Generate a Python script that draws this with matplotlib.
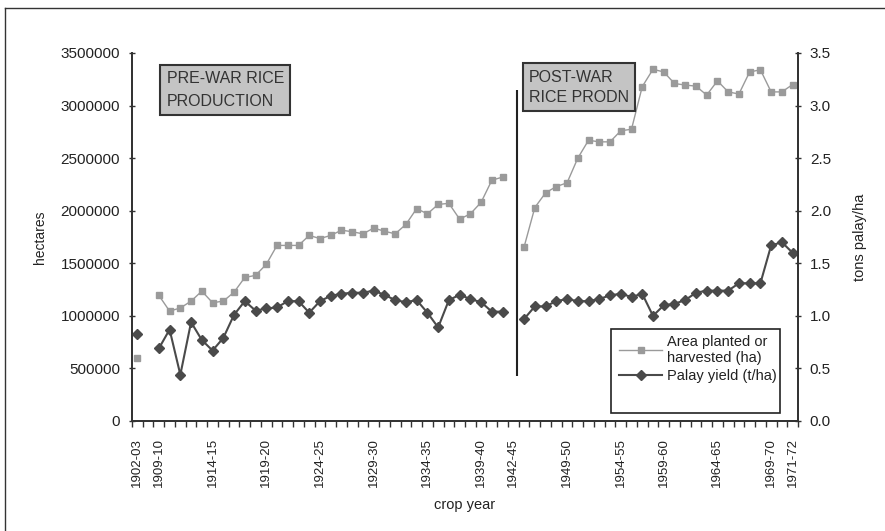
import numpy as np
import matplotlib
matplotlib.use("Agg")
import matplotlib.pyplot as plt
from matplotlib.lines import Line2D
from matplotlib.patches import Rectangle

plt.rcParams['font.family'] = ['Liberation Sans', 'DejaVu Sans']

nan = np.nan

# 62 crop-year categories; only some carry a label on the axis
labelled = {0: "1902-03", 2: "1909-10", 7: "1914-15", 12: "1919-20", 17: "1924-25",
            22: "1929-30", 27: "1934-35", 32: "1939-40", 35: "1942-45", 40: "1949-50",
            45: "1954-55", 49: "1959-60", 54: "1964-65", 59: "1969-70", 61: "1971-72"}
categories = [labelled.get(i, "") for i in range(62)]

area_ha = [600000, nan, 1195000, 1045000, 1075000, 1140000, 1235000, 1125000, 1140000, 1225000,
           1365000, 1385000, 1490000, 1670000, 1670000, 1670000, 1765000, 1735000, 1765000, 1815000,
           1800000, 1780000, 1835000, 1805000, 1780000, 1870000, 2020000, 1970000, 2060000, 2070000,
           1920000, 1970000, 2080000, 2290000, 2320000, nan, 1655000, 2030000, 2170000, 2230000,
           2265000, 2500000, 2670000, 2655000, 2655000, 2760000, 2775000, 3180000, 3345000, 3320000,
           3210000, 3195000, 3185000, 3100000, 3235000, 3130000, 3110000, 3320000, 3340000, 3130000,
           3130000, 3200000]

yield_tha = [0.83, nan, 0.69, 0.87, 0.44, 0.94, 0.77, 0.67, 0.79, 1.01,
             1.14, 1.05, 1.07, 1.08, 1.14, 1.14, 1.03, 1.14, 1.19, 1.21,
             1.22, 1.22, 1.24, 1.20, 1.15, 1.13, 1.15, 1.03, 0.89, 1.15,
             1.20, 1.16, 1.13, 1.04, 1.04, nan, 0.97, 1.09, 1.09, 1.14,
             1.16, 1.14, 1.14, 1.16, 1.195, 1.21, 1.18, 1.21, 1.00, 1.10,
             1.115, 1.15, 1.22, 1.24, 1.24, 1.24, 1.31, 1.31, 1.31, 1.67,
             1.70, 1.60]

left_ticks = [0, 500000, 1000000, 1500000, 2000000, 2500000, 3000000, 3500000]
right_ticks = [0.0, 0.5, 1.0, 1.5, 2.0, 2.5, 3.0, 3.5]
war_divider = 35.35  # between 1942-45 and the first post-war year

fig = plt.figure(figsize=(8.85, 5.31), dpi=100)
ax = fig.add_axes([132/885, 1 - 421/531, 666/885, 368/531])
ax2 = ax.twinx()

x = np.arange(len(categories))
txt = '#222222'
area_col = '#9a9a9a'
yld_col = '#4a4a4a'

la, = ax.plot(x, area_ha, color=area_col, lw=1.0, marker='s', ms=4.2,
              mfc=area_col, mec=area_col, label='Area planted or\nharvested (ha)')
ly, = ax2.plot(x, yield_tha, color=yld_col, lw=1.5, marker='D', ms=4.6,
               mfc=yld_col, mec=yld_col, label='Palay yield (t/ha)')

ax.set_xlim(-0.5, len(categories) - 0.5)
ax.set_ylim(0, 3500000)
ax2.set_ylim(0, 3.5)

# x axis: labels at category centres, tick marks at category boundaries
lab_idx = [i for i, c in enumerate(categories) if c]
ax.set_xticks(lab_idx)
ax.set_xticklabels([categories[i] for i in lab_idx], rotation=90, fontsize=9.5, color=txt)
ax.set_xticks(np.arange(-0.5, len(categories)), minor=True)
ax.tick_params(axis='x', which='major', length=0, pad=12)
ax.tick_params(axis='x', which='minor', length=4, width=1, direction='out', color='#333333')

ax.set_yticks(left_ticks)
ax.set_yticklabels([str(v) for v in left_ticks], fontsize=11, color=txt)
ax.tick_params(axis='y', which='major', length=5, width=1, direction='inout', color='#333333', pad=6)
ax2.set_yticks(right_ticks)
ax2.set_yticklabels([f"{v:.1f}" for v in right_ticks], fontsize=11, color=txt)
ax2.tick_params(axis='y', which='major', length=5, width=1, direction='inout', color='#333333', pad=6)

for a in (ax, ax2):
    a.spines['top'].set_visible(False)
    for s in ('left', 'right', 'bottom'):
        a.spines[s].set_color('#333333')
        a.spines[s].set_linewidth(1.3)

ax.set_xlabel('crop year', fontsize=10.5, color=txt, labelpad=8)
ax.set_ylabel('hectares', fontsize=10, color=txt, labelpad=10)
ax2.set_ylabel('tons palay/ha', fontsize=10.5, color=txt, labelpad=16)

# divider between pre-war and post-war periods
ax.vlines(war_divider, 424000, 3150000, color='#222222', lw=1.5)

box = dict(boxstyle='square,pad=0.4', facecolor='#c4c4c4', edgecolor='#333333', lw=1.5)
ax.text(0.052, 0.95, 'PRE-WAR RICE\nPRODUCTION', transform=ax.transAxes, fontsize=11.5,
        va='top', ha='left', color='#333333', bbox=box, linespacing=1.6)
ax.text(0.596, 0.955, 'POST-WAR\nRICE PRODN', transform=ax.transAxes, fontsize=11.5,
        va='top', ha='left', color='#333333', bbox=box, linespacing=1.45)

# legend: entries at top of a taller framed box
ax2.add_patch(Rectangle((0.719, 0.022), 0.254, 0.228, transform=ax2.transAxes,
                        facecolor='white', edgecolor='#222222', lw=1.2, zorder=4))
leg = ax2.legend(handles=[la, ly], loc='upper left', bbox_to_anchor=(0.722, 0.25),
                 fontsize=10.5, frameon=False, borderpad=0.4, handlelength=3.0,
                 labelspacing=0.3, handletextpad=0.3, borderaxespad=0)
leg.set_zorder(5)
for t in leg.get_texts():
    t.set_color(txt)

# outer frame (left and top edges visible)
fig.add_artist(Line2D([5/885, 5/885], [0, 1 - 8/531], transform=fig.transFigure, color='#333333', lw=1))
fig.add_artist(Line2D([5/885, 1], [1 - 8/531, 1 - 8/531], transform=fig.transFigure, color='#333333', lw=1))

fig.savefig('out.png', dpi=100)
